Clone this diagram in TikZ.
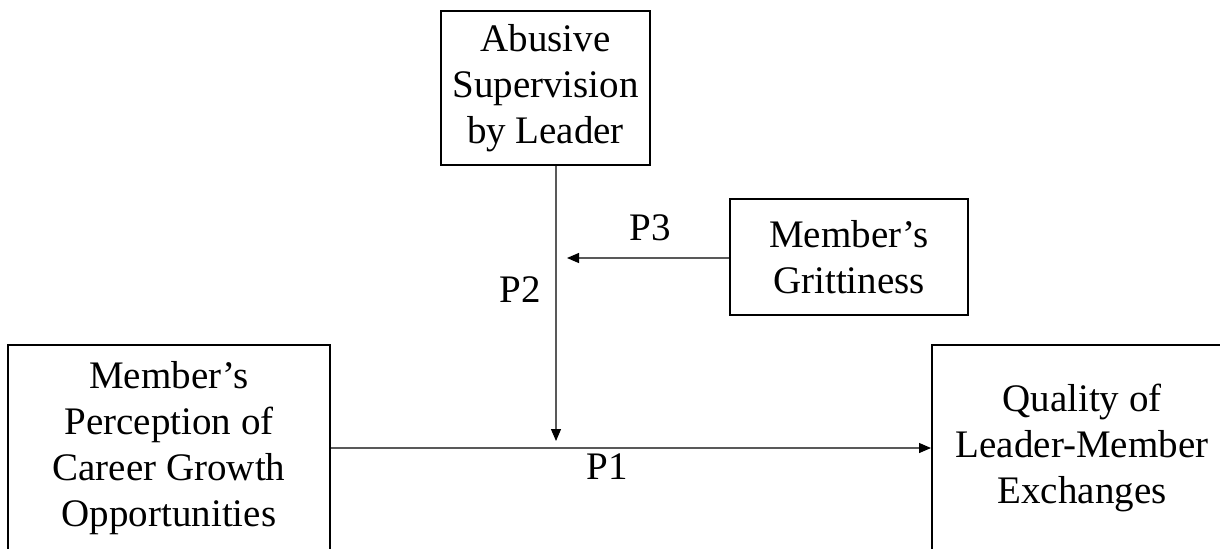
\documentclass[tikz,border=0pt]{standalone}
\usepackage{fontspec}
\setmainfont{Liberation Serif}
\usetikzlibrary{arrows.meta}
\usetikzlibrary{positioning}

\begin{document}
\begin{tikzpicture}[x=0.5pt,y=-0.5pt,>={Triangle[length=6pt,width=5pt,color=black]},
                    var node/.style={draw,line width=1pt,align=center,inner sep=0pt,
                      font=\fontsize{19.5}{23}\selectfont},
                    link/.style={->,line width=0.6pt,draw=black!65},
                    plabel/.style={font=\fontsize{19.5}{23}\selectfont}]
  \clip (0,0) rectangle (1220,548);

  \node[var node,minimum width=104.5pt,minimum height=77pt] (abuse) at (545.5,88)
    {Abusive\\Supervision\\by Leader};
  \node[var node,minimum width=119pt,minimum height=58pt] (grit) at (849,257)
    {Member's\\Grittiness};
  \node[var node,minimum width=161pt,minimum height=103pt] (growth) at (169,448)
    {Member's\\Perception of\\Career Growth\\Opportunities};
  \node[var node,minimum width=150pt,minimum height=103pt] (lmx) at (1082,448)
    {Quality of\\Leader-Member\\Exchanges};

  \coordinate (mod) at (556,441);
  \coordinate (modg) at (567,258);

  \draw[link] (abuse.south -| mod) -- (mod);
  \draw[link] (grit.west |- modg) -- (modg);
  \draw[link] (growth.east) -- (lmx.west);

  \node[plabel] (p1) at (607,467) {P1};
  \node[plabel] (p2) at (520,290) {P2};
  \node[plabel] (p3) at (650,228) {P3};
\end{tikzpicture}
\end{document}
